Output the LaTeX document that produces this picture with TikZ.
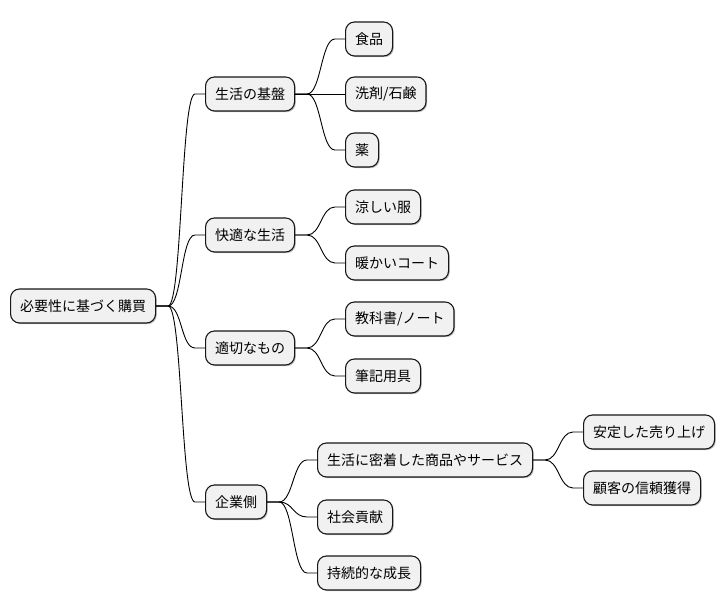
\documentclass[tikz,border=0pt]{standalone}
\usepackage{fontspec}
\setmainfont{Noto Sans CJK JP}
\usetikzlibrary{shadows}
\definecolor{boxfill}{HTML}{F1F1F1}
\definecolor{boxline}{HTML}{181818}
\tikzset{
  mm/.style={draw=boxline, fill=boxfill, line width=1.1pt, rounded corners=9pt,
    minimum height=34pt, inner xsep=9.5pt, inner ysep=0pt, anchor=west,
    font=\fontsize{14pt}{16pt}\selectfont,
    drop shadow={shadow xshift=1.2pt, shadow yshift=-1.2pt, opacity=0.25, fill=black}},
  conn/.style={draw=black, line width=0.9pt}
}
\newcommand\mmconn[2]{%
  \draw[conn] (#1.east) -- ++(12pt,0)
    .. controls ([xshift=26pt]#1.east) and ([xshift=-24pt]#2.west) ..
    ([xshift=-10pt]#2.west) -- (#2.west);}
\begin{document}
\begin{tikzpicture}[x=1pt,y=1pt]
\useasboundingbox (0,0) rectangle (726,612);
\fill[white] (0,0) rectangle (726,612);
% root
\node[mm] (root) at (10,306) {必要性に基づく購買};
% level 1
\node[mm] (a) at (205,518) {生活の基盤};
\node[mm] (b) at (205,377) {快適な生活};
\node[mm] (c) at (205,264) {適切なもの};
\node[mm] (d) at (205,110) {企業側};
% level 2
\node[mm] (a1) at (345,573) {食品};
\node[mm] (a2) at (345,518) {洗剤/石鹸};
\node[mm] (a3) at (345,462) {薬};
\node[mm] (b1) at (345,405) {涼しい服};
\node[mm] (b2) at (345,349) {暖かいコート};
\node[mm] (c1) at (345,293) {教科書/ノート};
\node[mm] (c2) at (345,236) {筆記用具};
\node[mm] (d1) at (317,152) {生活に密着した商品やサービス};
\node[mm] (d2) at (317,95) {社会貢献};
\node[mm] (d3) at (317,39) {持続的な成長};
% level 3
\node[mm] (e1) at (583,180) {安定した売り上げ};
\node[mm] (e2) at (583,124) {顧客の信頼獲得};
% connectors
\mmconn{root}{a}
\mmconn{root}{b}
\mmconn{root}{c}
\mmconn{root}{d}
\mmconn{a}{a1}
\mmconn{a}{a2}
\mmconn{a}{a3}
\mmconn{b}{b1}
\mmconn{b}{b2}
\mmconn{c}{c1}
\mmconn{c}{c2}
\mmconn{d}{d1}
\mmconn{d}{d2}
\mmconn{d}{d3}
\mmconn{d1}{e1}
\mmconn{d1}{e2}
\end{tikzpicture}
\end{document}
